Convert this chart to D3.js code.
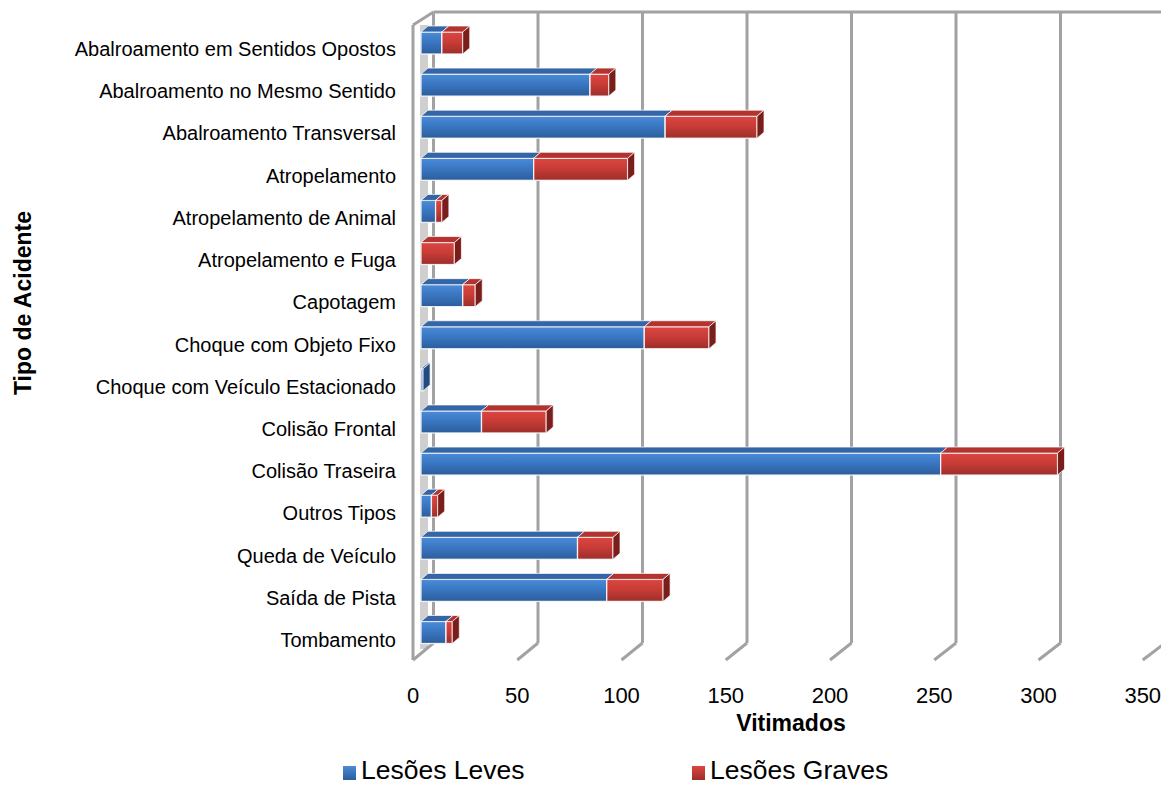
<!DOCTYPE html>
<html>
<head>
<meta charset="utf-8">
<script src="https://cdn.jsdelivr.net/npm/d3@7"></script>
<style>
  html, body { margin: 0; padding: 0; background: #fff; }
  svg { display: block; font-family: "Liberation Sans", Arial, sans-serif; }
</style>
</head>
<body>
<svg id="chart" width="1161" height="785"></svg>
<script>
const categories = [
  "Abalroamento em Sentidos Opostos",
  "Abalroamento no Mesmo Sentido",
  "Abalroamento Transversal",
  "Atropelamento",
  "Atropelamento de Animal",
  "Atropelamento e Fuga",
  "Capotagem",
  "Choque com Objeto Fixo",
  "Choque com Veículo Estacionado",
  "Colisão Frontal",
  "Colisão Traseira",
  "Outros Tipos",
  "Queda de Veículo",
  "Saída de Pista",
  "Tombamento"
];
const lesoesLeves  = [10, 81, 117, 54, 7, 0, 20, 107, 1, 29, 249, 5, 75, 89, 12];
const lesoesGraves = [10, 9, 44, 45, 3, 16, 6, 31, 0, 31, 56, 3, 17, 27, 3];
const seriesNames = ["Lesões Leves", "Lesões Graves"];
const tickValues = [0, 50, 100, 150, 200, 250, 300, 350];
const xTitle = "Vitimados";
const yTitle = "Tipo de Acidente";

const svg = d3.select("#chart");
const defs = svg.append("defs");

function grad(id, stops) {
  const g = defs.append("linearGradient").attr("id", id)
    .attr("x1", 0).attr("y1", 0).attr("x2", 0).attr("y2", 1);
  stops.forEach(s => g.append("stop").attr("offset", s[0]).attr("stop-color", s[1]));
}
grad("blueFront", [[0, "#4a8bd7"], [0.45, "#3a77c3"], [1, "#2c5d9b"]]);
grad("redFront",  [[0, "#dc4641"], [0.45, "#c93c37"], [1, "#9c2e2a"]]);
grad("blueLeg",   [[0, "#4a8bd7"], [1, "#2c5d9b"]]);
grad("redLeg",    [[0, "#dc4641"], [1, "#9c2e2a"]]);

const style = [
  { front: "url(#blueFront)", top: "#3465a6", side: "#234b82", leg: "url(#blueLeg)" },
  { front: "url(#redFront)",  top: "#b3332f", side: "#7a1e1b", leg: "url(#redLeg)" }
];

// scales
const maxV = 350;
const xFront = d3.scaleLinear().domain([0, maxV]).range([413, 413 + 350 * 2.085]);
const xBack  = d3.scaleLinear().domain([0, maxV]).range([433.5, 433.5 + 350 * 2.09]);
const xBar   = d3.scaleLinear().domain([0, maxV]).range([421, 421 + 350 * 2.087]);
const yC = d3.scalePoint().domain(categories).range([43, 632.5]);   // bar front-face centres
const yL = d3.scalePoint().domain(categories).range([56, 647]);     // label baselines

const wallTop = 12, wallBottom = 643, frontTop = 25, frontBottom = 660;
const gridColor = "#a2a2a2";
const depthX = 7, depthY = 6, barH = 22;

// top edge of back wall
svg.append("line")
  .attr("x1", xBack(0)).attr("y1", wallTop).attr("x2", 1161).attr("y2", wallTop)
  .attr("stroke", gridColor).attr("stroke-width", 3);

// light band on left wall
svg.append("rect")
  .attr("x", xBar(0) - 1).attr("y", frontTop)
  .attr("width", depthX + 1).attr("height", wallBottom - frontTop + 6)
  .attr("fill", "#cfcfcf");

// back-wall gridlines with floor returns
const g = svg.append("g");
tickValues.forEach(t => {
  g.append("line")
    .attr("x1", xBack(t)).attr("y1", wallTop)
    .attr("x2", xBack(t)).attr("y2", wallBottom)
    .attr("stroke", gridColor).attr("stroke-width", 3);
  g.append("line")
    .attr("x1", xBack(t)).attr("y1", wallBottom)
    .attr("x2", xFront(t)).attr("y2", frontBottom)
    .attr("stroke", gridColor).attr("stroke-width", 3);
});
// front edge of left wall
g.append("line")
  .attr("x1", xFront(0)).attr("y1", frontTop).attr("x2", xFront(0)).attr("y2", frontBottom)
  .attr("stroke", gridColor).attr("stroke-width", 3);
g.append("line")
  .attr("x1", xFront(0)).attr("y1", frontTop).attr("x2", xBack(0)).attr("y2", wallTop)
  .attr("stroke", gridColor).attr("stroke-width", 3);

// bars
const stacked = categories.map((c, i) => {
  const vals = [lesoesLeves[i], lesoesGraves[i]];
  let acc = 0;
  return vals.map((v, s) => { const seg = { cat: c, s, v, x0: acc, x1: acc + v }; acc += v; return seg; });
});

const barsG = svg.append("g");
stacked.forEach(row => {
  row.forEach(seg => {
    if (seg.v <= 0) return;
    const cy = yC(seg.cat);
    const yt = cy - barH / 2, yb = cy + barH / 2;
    const x0 = xBar(seg.x0), x1 = xBar(seg.x1);
    const st = style[seg.s];
    const grp = barsG.append("g");
    grp.append("rect")
      .attr("x", x0).attr("y", yt).attr("width", x1 - x0).attr("height", barH)
      .attr("fill", st.front).attr("stroke", "#ffffff").attr("stroke-width", 1.3).attr("stroke-opacity", 0.85);
    grp.append("path")
      .attr("d", `M${x0},${yt}L${x1},${yt}L${x1 + depthX},${yt - depthY}L${x0 + depthX},${yt - depthY}Z`)
      .attr("fill", st.top).attr("stroke", "#ffffff").attr("stroke-width", 1).attr("stroke-opacity", 0.7);
    grp.append("path")
      .attr("d", `M${x1},${yt}L${x1 + depthX},${yt - depthY}L${x1 + depthX},${yb - depthY}L${x1},${yb}Z`)
      .attr("fill", st.side).attr("stroke", "#ffffff").attr("stroke-width", 1).attr("stroke-opacity", 0.7);
  });
});

// category labels
svg.append("g").selectAll("text").data(categories).join("text")
  .attr("x", 396).attr("y", d => yL(d))
  .attr("text-anchor", "end").attr("font-size", 20).attr("fill", "#000")
  .text(d => d);

// x tick labels
svg.append("g").selectAll("text").data(tickValues).join("text")
  .attr("x", d => xFront(d)).attr("y", 703)
  .attr("text-anchor", "middle").attr("font-size", 22).attr("fill", "#000")
  .text(d => d);

// axis titles
svg.append("text").attr("x", 791).attr("y", 731)
  .attr("text-anchor", "middle").attr("font-size", 23).attr("font-weight", "bold")
  .text(xTitle);
svg.append("text")
  .attr("transform", "translate(31,303) rotate(-90)")
  .attr("text-anchor", "middle").attr("font-size", 23).attr("font-weight", "bold")
  .text(yTitle);

// legend
const legX = [343, 692];
seriesNames.forEach((n, i) => {
  svg.append("rect").attr("x", legX[i]).attr("y", 766).attr("width", 13).attr("height", 14)
    .attr("fill", style[i].leg);
  svg.append("text").attr("x", legX[i] + 18).attr("y", 779)
    .attr("font-size", 26.5).attr("fill", "#000").text(n);
});
</script>
</body>
</html>
